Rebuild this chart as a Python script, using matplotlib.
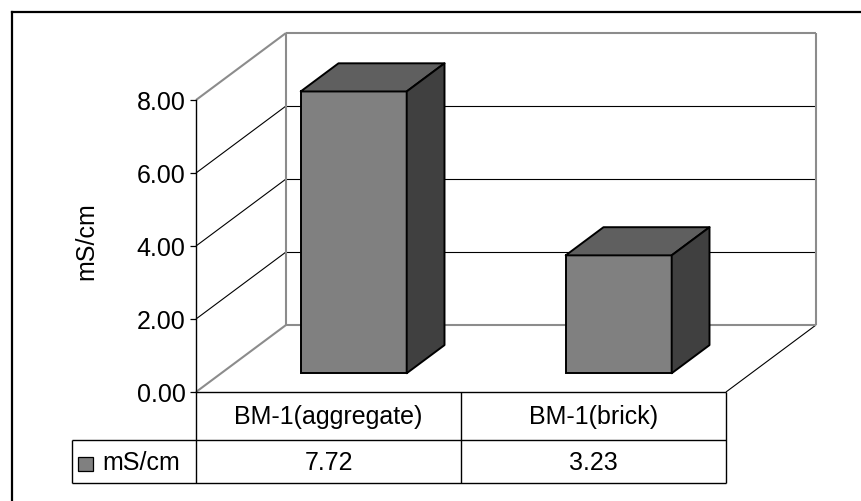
import matplotlib
matplotlib.use("Agg")
import matplotlib.pyplot as plt
from matplotlib.patches import Polygon, Rectangle
from matplotlib.lines import Line2D
from matplotlib.ticker import FormatStrFormatter

# ---- data ----
categories = ["BM-1(aggregate)", "BM-1(brick)"]
values = [7.72, 3.23]
series_name = "mS/cm"
y_ticks = [0, 2, 4, 6, 8]
y_label = "mS/cm"

# ---- layout (pixels) ----
W, H, DPI = 862, 502, 100
ORIGIN = (196, 393)      # front-bottom-left corner of the plot box
CAT_PX = 265             # width of one category slot
UNIT_PX = 36.5           # pixels per y unit
DEPTH_PX = (90, 67)      # oblique offset from front to back wall
HEADER_PX = 47.7         # table header row height
ROW_PX = 43.6            # table data row height
TABLE_LEFT_PX = 71.7

FONT = "Liberation Sans"
FS = 18
GRAY_EDGE = "#8c8c8c"

plt.rcParams["font.family"] = [FONT, "DejaVu Sans"]

fig = plt.figure(figsize=(W / DPI, H / DPI), dpi=DPI)
fig.patch.set_facecolor("white")
ax = fig.add_axes([0, 0, 1, 1])
ax.set_xlim(-ORIGIN[0] / CAT_PX, (W - ORIGIN[0]) / CAT_PX)
ax.set_ylim((ORIGIN[1] - H) / UNIT_PX, ORIGIN[1] / UNIT_PX)

DX = DEPTH_PX[0] / CAT_PX
DY = DEPTH_PX[1] / UNIT_PX
n = len(categories)
y_top = max(y_ticks)


def proj(c, v, d):
    """Oblique projection of (category, value, depth) to axes data coords."""
    return c + d * DX, v + d * DY


def seg(p, q, **kw):
    ax.plot([p[0], q[0]], [p[1], q[1]], solid_capstyle="butt", **kw)


# ---- value axis on the front-left edge ----
for s in ("top", "right", "bottom"):
    ax.spines[s].set_visible(False)
ax.spines["left"].set_position(("data", 0))
ax.spines["left"].set_bounds(0, y_top)
ax.spines["left"].set_linewidth(1.0)
ax.spines["left"].set_zorder(4)
ax.set_yticks(y_ticks)
ax.yaxis.set_major_formatter(FormatStrFormatter("%.2f"))
ax.tick_params(axis="y", length=4.3, width=0.9, pad=3.2, labelsize=FS)
ax.set_xticks([])
ax.text(-0.412, 4.15, y_label, rotation=90, ha="center", va="center", fontsize=FS)

# ---- walls and gridlines ----
for v in y_ticks[1:-1]:
    seg(proj(0, v, 0), proj(0, v, 1), color="black", lw=0.8, zorder=1)
    seg(proj(0, v, 1), proj(n, v, 1), color="black", lw=0.8, zorder=1)
for a, b in [((0, 0, 0), (0, 0, 1)), ((0, y_top, 0), (0, y_top, 1)),
             ((0, 0, 1), (n, 0, 1)), ((0, y_top, 1), (n, y_top, 1)),
             ((0, 0, 1), (0, y_top, 1)), ((n, 0, 1), (n, y_top, 1))]:
    seg(proj(*a), proj(*b), color=GRAY_EDGE, lw=1.5, zorder=1.5)
seg(proj(n, 0, 0), proj(n, 0, 1), color="black", lw=0.8, zorder=1)

# ---- 3D bars ----
D0, D1 = 0.28, 0.70
HALF = 0.2
for i, v in enumerate(values):
    c0, c1 = i + 0.5 - HALF, i + 0.5 + HALF
    ax.bar(i + 0.5 + D0 * DX, v, width=2 * HALF, bottom=D0 * DY,
           color="#808080", edgecolor="black", linewidth=1.4, zorder=3)
    top = [proj(c0, v, D0), proj(c1, v, D0), proj(c1, v, D1), proj(c0, v, D1)]
    side = [proj(c1, 0, D0), proj(c1, v, D0), proj(c1, v, D1), proj(c1, 0, D1)]
    ax.add_patch(Polygon(top, closed=True, facecolor="#5f5f5f",
                         edgecolor="black", lw=1.4, joinstyle="round", zorder=3))
    ax.add_patch(Polygon(side, closed=True, facecolor="#404040",
                         edgecolor="black", lw=1.4, joinstyle="round", zorder=3))

# ---- data table ----
hdr_bot = -HEADER_PX / UNIT_PX
row_bot = -(HEADER_PX + ROW_PX) / UNIT_PX
left = (TABLE_LEFT_PX - ORIGIN[0]) / CAT_PX
lk = dict(color="black", lw=1.0, zorder=2)
seg((0, 0), (n, 0), **lk)
seg((left, hdr_bot), (n, hdr_bot), **lk)
seg((left, row_bot), (n, row_bot), **lk)
seg((left, hdr_bot), (left, row_bot), **lk)
for k in range(n + 1):
    seg((k, 0), (k, row_bot), **lk)

for i, (cat, v) in enumerate(zip(categories, values)):
    ax.text(i + 0.5, hdr_bot / 2, cat, ha="center", va="center", fontsize=FS)
    ax.text(i + 0.5, (hdr_bot + row_bot) / 2, f"{v:.2f}",
            ha="center", va="center", fontsize=FS)

# legend key in the row header
key_x0 = (78.3 - ORIGIN[0]) / CAT_PX
key_w = 15 / CAT_PX
key_h = 14 / UNIT_PX
key_y0 = (hdr_bot + row_bot) / 2 - key_h / 2 - 2 / UNIT_PX
ax.add_patch(Rectangle((key_x0, key_y0), key_w, key_h, facecolor="#808080",
                       edgecolor="black", lw=0.9, zorder=3))
ax.text((102 - ORIGIN[0]) / CAT_PX, (hdr_bot + row_bot) / 2, series_name,
        ha="left", va="center", fontsize=FS)

# ---- chart frame (top and left edges) ----
fx, fy = 12 / W, 1 - 13 / H
fig.add_artist(Line2D([fx, 1.0], [fy, fy], transform=fig.transFigure,
                      color="black", lw=1.6))
fig.add_artist(Line2D([fx, fx], [0.0, fy], transform=fig.transFigure,
                      color="black", lw=1.6))

fig.savefig("out.png", dpi=DPI, facecolor="white")
